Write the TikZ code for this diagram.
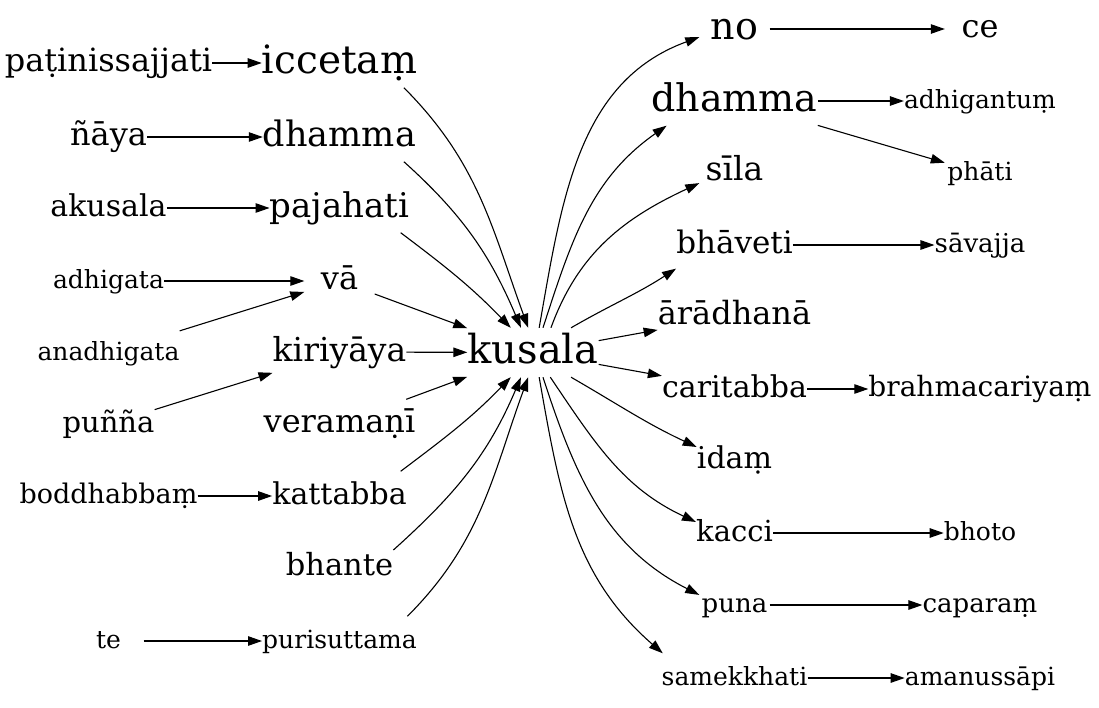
\documentclass[tikz,border=0pt]{standalone}
\usepackage{fontspec}
\setmainfont{DejaVu Serif}
\usepackage{tikz}
\usetikzlibrary{arrows.meta}
\tikzset{
    wordnode/.style = {draw=none, fill=none, rectangle, inner sep=0pt, minimum width=70pt,
      minimum height=49pt, execute at begin node={\rule[-0.3em]{0pt}{1.16em}}},
    fsize/.style = {font=\fontsize{#1}{#1}\selectfont},
    connect/.style = {black, line width=1.1pt, -{Triangle[length=14pt, width=9.5pt]}}
}

\begin{document}
\begin{tikzpicture}[x=1pt, y=-1pt]
\useasboundingbox (0,0) rectangle (1099,707);

% centre word
\node [wordnode, fsize=40, name=kusala] at (533,352.5) {kusala};

% left side
\node [wordnode, fsize=32, name=patinissajjati] at (108.5,63) {paṭinissajjati};
\node [wordnode, fsize=39, name=iccetam] at (339.5,63) {iccetaṃ};
\node [wordnode, fsize=32, name=naya] at (108.5,137) {ñāya};
\node [wordnode, fsize=35, name=dhammaleft] at (339.5,137) {dhamma};
\node [wordnode, fsize=30, name=akusala] at (108.5,208) {akusala};
\node [wordnode, fsize=34, name=pajahati] at (339.5,208) {pajahati};
\node [wordnode, fsize=25, name=adhigata] at (108.5,281) {adhigata};
\node [wordnode, fsize=32, name=va] at (339.5,281) {vā};
\node [wordnode, fsize=25, name=anadhigata] at (108.5,353) {anadhigata};
\node [wordnode, fsize=33, name=kiriyaya] at (339.5,352) {kiriyāya};
\node [wordnode, fsize=29, name=punna] at (108.5,424) {puñña};
\node [wordnode, fsize=32, name=veramani] at (339.5,424) {veramaṇī};
\node [wordnode, fsize=27, name=boddhabbam] at (108.5,496) {boddhabbaṃ};
\node [wordnode, fsize=30, name=kattabba] at (339.5,496) {kattabba};
\node [wordnode, fsize=30.5, name=bhante] at (339.5,566.5) {bhante};
\node [wordnode, fsize=25, name=te] at (108.5,641) {te};
\node [wordnode, fsize=25, name=purisuttama] at (339.5,641) {purisuttama};

% right side
\node [wordnode, fsize=38, name=no] at (734.5,29) {no};
\node [wordnode, fsize=32, name=ce] at (980,29) {ce};
\node [wordnode, fsize=38, name=dhammaright] at (734.5,101) {dhamma};
\node [wordnode, fsize=25, name=adhigantum] at (980,101) {adhigantuṃ};
\node [wordnode, fsize=33, name=sila] at (734.5,171) {sīla};
\node [wordnode, fsize=25, name=phati] at (980,173) {phāti};
\node [wordnode, fsize=31, name=bhaveti] at (734.5,245) {bhāveti};
\node [wordnode, fsize=26, name=savajja] at (980,245) {sāvajja};
\node [wordnode, fsize=32, name=aradhana] at (734.5,316) {ārādhanā};
\node [wordnode, fsize=30, name=caritabba] at (734.5,389) {caritabba};
\node [wordnode, fsize=28, name=brahmacariyam] at (980,389) {brahmacariyaṃ};
\node [wordnode, fsize=30, name=idam] at (734.5,460) {idaṃ};
\node [wordnode, fsize=29, name=kacci] at (734.5,533) {kacci};
\node [wordnode, fsize=25, name=bhoto] at (980,533) {bhoto};
\node [wordnode, fsize=26, name=puna] at (734.5,605) {puna};
\node [wordnode, fsize=26, name=caparam] at (980,605) {caparaṃ};
\node [wordnode, fsize=25, name=samekkhati] at (734.5,678) {samekkhati};
\node [wordnode, fsize=25, name=amanussapi] at (980,678) {amanussāpi};

% left edges
\draw (patinissajjati) edge[connect] (iccetam);
\draw (naya) edge[connect] (dhammaleft);
\draw (akusala) edge[connect] (pajahati);
\draw (adhigata) edge[connect] (va);
\draw (anadhigata) edge[connect] (va);
\draw (punna) edge[connect] (kiriyaya);
\draw (boddhabbam) edge[connect] (kattabba);
\draw (te) edge[connect] (purisuttama);

% into kusala
\draw (iccetam.-21) edge[connect, out=-45, in=110] (kusala.101);
\draw (dhammaleft.-21) edge[connect, out=-42, in=113] (kusala.116);
\draw (pajahati.-22) edge[connect, out=-37, in=134] (kusala.132);
\draw (va) edge[connect] (kusala);
\draw (kiriyaya) edge[connect] (kusala);
\draw (veramani) edge[connect] (kusala);
\draw (kattabba.22) edge[connect, out=37, in=-134] (kusala.-132);
\draw (bhante.17) edge[connect, out=42, in=-113] (kusala.-116);
\draw (purisuttama.20) edge[connect, out=45, in=-110] (kusala.-101);

% out of kusala
\draw (kusala.76) edge[connect, out=80, in=200] (no.193);
\draw (kusala.68) edge[connect, out=72, in=215] (dhammaright.200);
\draw (kusala.54) edge[connect, out=70, in=205] (sila.199);
\draw (kusala.33) edge[connect, out=30, in=213] (bhaveti.202);
\draw (kusala) edge[connect] (aradhana);
\draw (kusala) edge[connect] (caritabba);
\draw (kusala.-33) edge[connect, out=-30, in=155] (idam.161);
\draw (kusala.-55) edge[connect, out=-56, in=155] (kacci.164);
\draw (kusala.-68) edge[connect, out=-72, in=153] (puna.164);
\draw (kusala.-76) edge[connect, out=-80, in=139] (samekkhati.161);

% right edges
\draw (no) edge[connect] (ce);
\draw (dhammaright) edge[connect] (adhigantum);
\draw (dhammaright) edge[connect] (phati);
\draw (bhaveti) edge[connect] (savajja);
\draw (caritabba) edge[connect] (brahmacariyam);
\draw (kacci) edge[connect] (bhoto);
\draw (puna) edge[connect] (caparam);
\draw (samekkhati) edge[connect] (amanussapi);
\end{tikzpicture}
\end{document}
